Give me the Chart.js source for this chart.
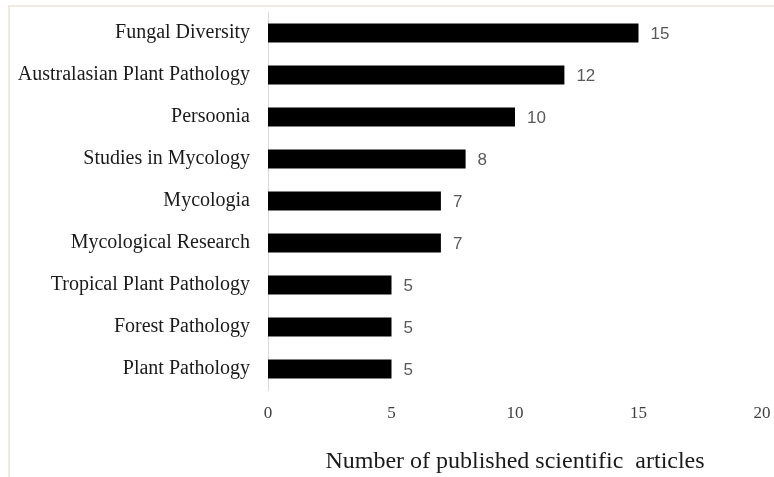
<!DOCTYPE html>
<html>
<head>
<meta charset="utf-8">
<script src="https://cdn.jsdelivr.net/npm/chart.js@4.4.0/dist/chart.umd.min.js"></script>
<style>
    html, body { margin: 0; padding: 0; background: #fff; }
    #wrap { position: relative; width: 774px; height: 477px; }
    #frame {
        position: absolute; left: 8px; top: 5px; right: 0; bottom: 0;
        border-top: 2px solid #eeeadf; border-left: 2px solid #eeeadf;
        pointer-events: none;
    }
    canvas { position: absolute; left: 0; top: 0; }
</style>
</head>
<body>
<div id="wrap">
    <div id="frame"></div>
    <canvas id="journalChart" width="774" height="477"></canvas>
</div>
<script>
const journals = [
    "Fungal Diversity",
    "Australasian Plant Pathology",
    "Persoonia",
    "Studies in Mycology",
    "Mycologia",
    "Mycological Research",
    "Tropical Plant Pathology",
    "Forest Pathology",
    "Plant Pathology"
];
const articleCounts = [15, 12, 10, 8, 7, 7, 5, 5, 5];
const xTicks = [0, 5, 10, 15, 20];
const axisTitle = "Number of published scientific  articles";

// draws the count just right of each bar end
const valueLabels = {
    id: "valueLabels",
    afterDatasetsDraw(chart) {
        const ctx = chart.ctx;
        const meta = chart.getDatasetMeta(0);
        ctx.save();
        ctx.font = "17px 'Liberation Sans', Arial, sans-serif";
        ctx.fillStyle = "#595959";
        ctx.textAlign = "left";
        ctx.textBaseline = "middle";
        meta.data.forEach((bar, i) => {
            ctx.fillText(String(articleCounts[i]), bar.x + 12, bar.y + 1);
        });
        ctx.restore();
    }
};

function initChart() {
    const ctx = document.getElementById("journalChart").getContext("2d");

    new Chart(ctx, {
        type: "bar",
        data: {
            labels: journals,
            datasets: [{
                data: articleCounts,
                backgroundColor: "#000000",
                borderWidth: 0,
                barPercentage: 0.45,
                categoryPercentage: 1
            }]
        },
        options: {
            indexAxis: "y",
            responsive: false,
            animation: false,
            layout: { padding: { top: 12, right: 12, left: 0, bottom: 0 } },
            plugins: {
                legend: { display: false },
                tooltip: { enabled: false }
            },
            scales: {
                x: {
                    min: 0,
                    max: 20,
                    afterBuildTicks: axis => {
                        axis.ticks = xTicks.map(v => ({ value: v }));
                    },
                    afterFit: axis => {
                        axis.height = 87;
                        axis.paddingLeft = 0;
                        axis.paddingRight = 0;
                    },
                    grid: { display: false, drawTicks: false },
                    border: { display: false },
                    ticks: {
                        padding: 13,
                        color: "#404040",
                        font: { family: "'Liberation Serif', 'Times New Roman', serif", size: 17 }
                    },
                    title: {
                        display: true,
                        text: axisTitle,
                        color: "#1a1a1a",
                        padding: { top: 0, bottom: 1 },
                        font: { family: "'Liberation Serif', 'Times New Roman', serif", size: 24 }
                    }
                },
                y: {
                    afterFit: axis => {
                        axis.width = 268;
                        axis.paddingTop = 0;
                        axis.paddingBottom = 0;
                    },
                    grid: { display: false, drawTicks: false },
                    border: { display: true, color: "#d9d9d9", width: 1 },
                    ticks: {
                        padding: 18,
                        color: "#1a1a1a",
                        font: { family: "'Liberation Serif', 'Times New Roman', serif", size: 20 }
                    }
                }
            }
        },
        plugins: [valueLabels]
    });
}

document.addEventListener("DOMContentLoaded", initChart);
</script>
</body>
</html>
